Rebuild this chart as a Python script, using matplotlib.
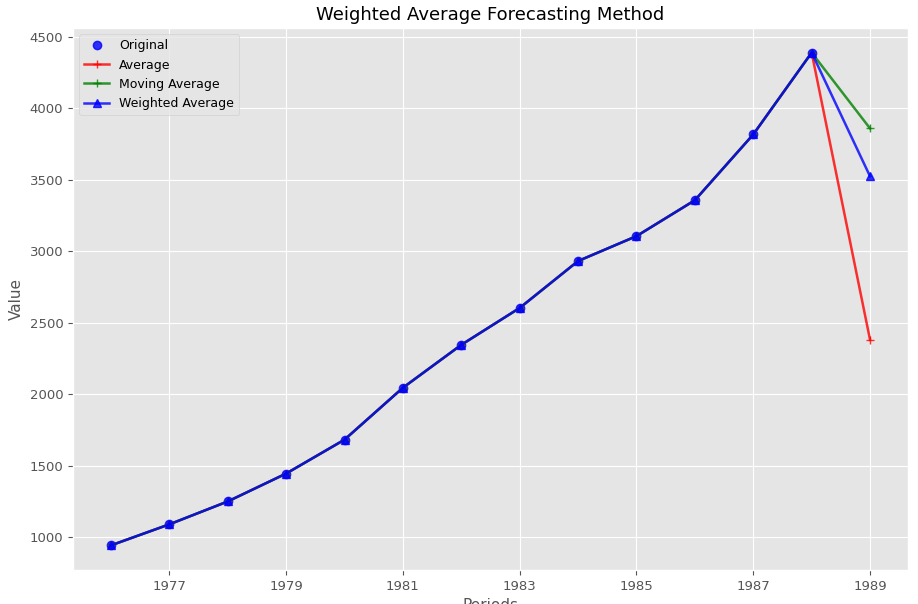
import matplotlib
matplotlib.use("Agg")
import matplotlib.pyplot as plt

plt.style.use("ggplot")

years = [1976, 1977, 1978, 1979, 1980, 1981, 1982, 1983, 1984, 1985, 1986, 1987, 1988]
original = [944, 1091, 1251, 1446, 1683, 2046, 2346, 2604, 2932, 3106, 3357, 3817, 4389]

forecast_year = 1989
avg_forecast = 2381
moving_forecast = 3859
weighted_forecast = 3524

periods = years + [forecast_year]
average = original + [avg_forecast]
moving_average = original + [moving_forecast]
weighted_average = original + [weighted_forecast]

fig = plt.figure(figsize=(9.18, 6.04), dpi=100)
ax = fig.add_axes([73 / 918, 34 / 604, 835 / 918, 542 / 604])

ax.plot(years, original, "o", color="b", alpha=0.8, label="Original")
ax.plot(periods, average, "+-", color="r", alpha=0.8, lw=1.8, label="Average")
ax.plot(periods, moving_average, "+-", color="g", alpha=0.8, lw=1.8, label="Moving Average")
ax.plot(periods, weighted_average, "^-", color="b", alpha=0.8, lw=1.8, label="Weighted Average")

ax.set_xticks(range(1977, 1990, 2))
ax.tick_params(labelsize=9.5)
ax.set_title("Weighted Average Forecasting Method", fontsize=13)
ax.set_xlabel("Periods", fontsize=11)
ax.set_ylabel("Value", fontsize=11)
ax.legend(loc="upper left", fontsize=9)

fig.savefig("out.png", dpi=100)
